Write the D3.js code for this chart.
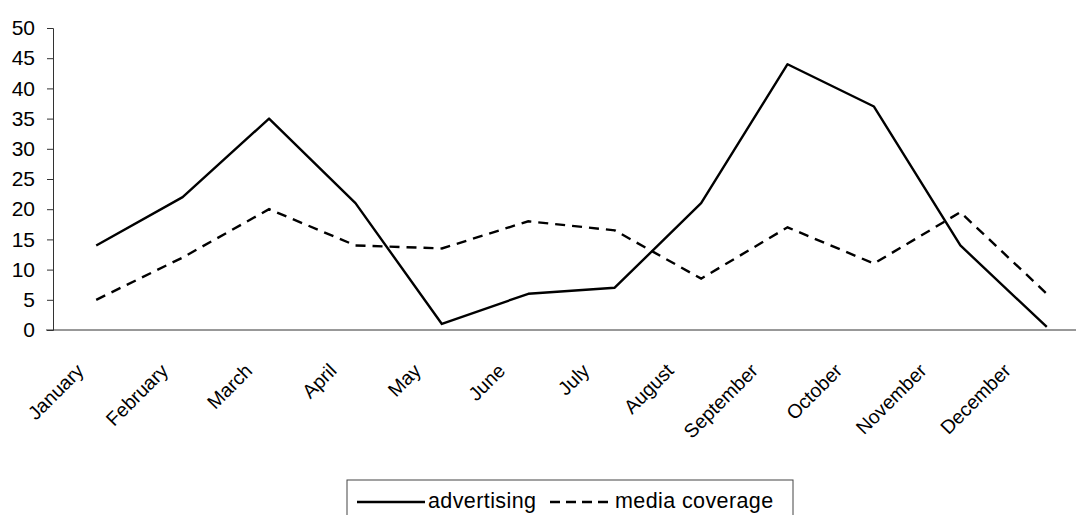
<!DOCTYPE html>
<html>
<head>
<meta charset="utf-8">
<script src="https://cdn.jsdelivr.net/npm/d3@7"></script>
<style>
  body { margin: 0; background: #fff; }
  text { font-family: "Liberation Sans", Arial, sans-serif; fill: #000; }
</style>
</head>
<body>
<div id="chart"></div>
<script>
// DATA
var months = ["January", "February", "March", "April", "May", "June",
              "July", "August", "September", "October", "November", "December"];
var advertising   = [14, 22, 35, 21, 1, 6, 7, 21, 44, 37, 14, 0.5];
var mediaCoverage = [5, 12, 20, 14, 13.5, 18, 16.5, 8.5, 17, 11, 19.5, 6];
var yTicks = [0, 5, 10, 15, 20, 25, 30, 35, 40, 45, 50];

var width = 1082, height = 515;

var svg = d3.select("#chart").append("svg")
    .attr("width", width)
    .attr("height", height);

// scales
var x = d3.scalePoint().domain(months).range([53, 1090]).padding(0.5);
// tick labels sit a bit tighter than the points in the (scanned) original
var xLab = d3.scalePoint().domain(months).range([85, 1012]);
var y = d3.scaleLinear().domain([0, 50]).range([330, 28]);

// y axis
var yAxis = svg.append("g")
    .attr("transform", "translate(53,0)")
    .call(d3.axisLeft(y).tickValues(yTicks).tickSize(6).tickPadding(12));
yAxis.select(".domain").attr("stroke", "#333");
yAxis.selectAll(".tick line").attr("stroke", "#333");
yAxis.selectAll(".tick text")
    .style("font-size", "21px")
    .attr("fill", "#000");

// x axis line
svg.append("line")
    .attr("x1", 46).attr("x2", 1076)
    .attr("y1", y(0)).attr("y2", y(0))
    .attr("stroke", "#333")
    .attr("stroke-width", 1);

// x tick labels, rotated
svg.append("g").selectAll("text")
  .data(months).enter().append("text")
    .attr("text-anchor", "end")
    .attr("transform", function(d) {
      return "translate(" + xLab(d) + ",372) rotate(-45)";
    })
    .style("font-size", "19.5px")
    .text(function(d) { return d; });

// lines
var line = d3.line()
    .x(function(d, i) { return x(months[i]); })
    .y(function(d) { return y(d); });

svg.append("path")
    .datum(advertising)
    .attr("d", line)
    .attr("fill", "none")
    .attr("stroke", "#000")
    .attr("stroke-width", 2.4)
    .attr("stroke-linejoin", "round");

svg.append("path")
    .datum(mediaCoverage)
    .attr("d", line)
    .attr("fill", "none")
    .attr("stroke", "#000")
    .attr("stroke-width", 2.4)
    .attr("stroke-dasharray", "10,7");

// legend
var lg = svg.append("g");
lg.append("rect")
    .attr("x", 347).attr("y", 480)
    .attr("width", 446).attr("height", 45)
    .attr("fill", "none")
    .attr("stroke", "#444")
    .attr("stroke-width", 1);

lg.append("line")
    .attr("x1", 357).attr("x2", 425)
    .attr("y1", 502).attr("y2", 502)
    .attr("stroke", "#000").attr("stroke-width", 2.4);
lg.append("text")
    .attr("x", 428).attr("y", 508)
    .style("font-size", "21.5px")
    .style("letter-spacing", "0.4px")
    .text("advertising");

lg.append("line")
    .attr("x1", 550).attr("x2", 610)
    .attr("y1", 502).attr("y2", 502)
    .attr("stroke", "#000").attr("stroke-width", 2.4)
    .attr("stroke-dasharray", "10,6");
lg.append("text")
    .attr("x", 615).attr("y", 508)
    .style("font-size", "21.5px")
    .style("letter-spacing", "0.4px")
    .text("media coverage");
</script>
</body>
</html>
